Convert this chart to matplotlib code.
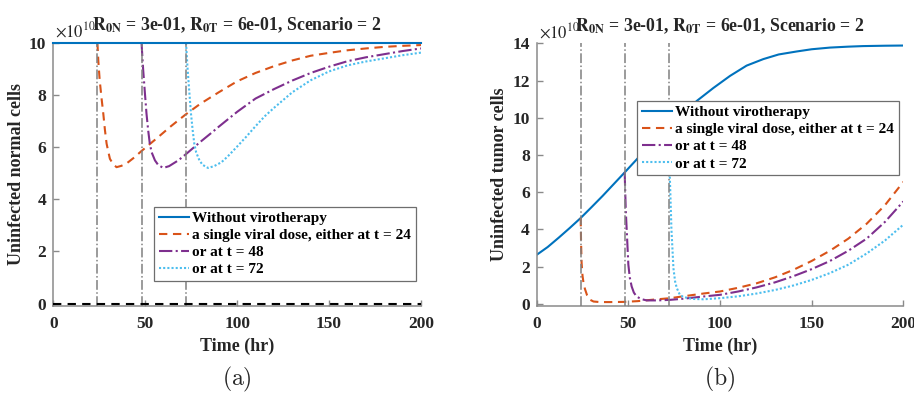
import matplotlib
matplotlib.use("Agg")
import matplotlib.pyplot as plt

plt.rcParams['font.family'] = ['Liberation Serif', 'DejaVu Serif']
plt.rcParams['mathtext.fontset'] = 'stix'

# ---------------- data ----------------
dose_times = [24, 48, 72]
legend_labels = ["Without virotherapy", "a single viral dose, either at t = 24",
                 "or at t = 48", "or at t = 72"]

# (a) uninfected normal cells (x1e10)
normal_none_t = [0, 200]
normal_none = [10, 10]
normal_d24_t = [24, 24.5, 25.2, 26.2, 27.2, 28.1, 29.0, 30.0, 30.8, 32.5, 34.4, 37, 40, 44, 48, 56, 64, 72,
                80, 90, 100, 110, 120, 130, 140, 150, 160, 170, 180, 190, 200]
normal_d24 = [10, 9.3, 8.6, 7.9, 7.28, 6.65, 6.13, 5.8, 5.55, 5.35, 5.23, 5.28, 5.38, 5.6, 5.85, 6.32, 6.8, 7.25,
              7.66, 8.1, 8.52, 8.84, 9.1, 9.32, 9.5, 9.61, 9.71, 9.78, 9.84, 9.88, 9.91]
normal_d48_t = [48, 48.5, 48.9, 49.8, 50.7, 51.6, 52.5, 53.5, 55.3, 57, 59.8, 63, 68, 72, 77, 80, 86.1, 90,
                100, 110, 120, 130, 140, 150, 160, 170, 180, 190, 200]
normal_d48 = [10, 9.4, 8.95, 8.1, 7.28, 6.65, 6.13, 5.8, 5.49, 5.32, 5.2, 5.27, 5.49, 5.72, 6.02, 6.2, 6.55, 6.78,
              7.35, 7.86, 8.22, 8.55, 8.84, 9.08, 9.29, 9.44, 9.56, 9.68, 9.78]
normal_d72_t = [72.2, 72.7, 73.1, 74.0, 74.9, 75.8, 76.7, 77.7, 79.5, 81.2, 84.2, 87.5, 91.5, 95, 100, 105,
                110, 115, 120, 130, 140, 150, 160, 170, 180, 190, 200]
normal_d72 = [10, 9.4, 8.95, 8.1, 7.28, 6.65, 6.13, 5.8, 5.49, 5.32, 5.2, 5.27, 5.42, 5.65, 6.02, 6.4,
              6.8, 7.18, 7.5, 8.1, 8.56, 8.9, 9.13, 9.28, 9.4, 9.52, 9.62]
normal_threshold = 0.0

# (b) uninfected tumor cells (x1e10)
tumor_none_t = [0, 6, 12, 18, 24, 30, 36, 42, 48, 54, 60, 66, 72, 80, 87.3, 96.4, 105.5, 114.5, 123.6,
                132, 141.8, 150, 160, 170, 178, 190, 200]
tumor_none = [2.63, 3.05, 3.55, 4.07, 4.61, 5.2, 5.8, 6.43, 7.06, 7.7, 8.35, 8.95, 9.52, 10.2, 10.9, 11.6,
              12.25, 12.8, 13.15, 13.4, 13.56, 13.68, 13.77, 13.82, 13.85, 13.87, 13.88]
tumor_d24_t = [24, 24.2, 24.5, 25, 25.5, 26.3, 27.5, 29, 31, 34.5, 40, 47.5, 55, 63.6, 72.8, 80, 91, 100,
               110, 120, 130, 140, 150, 160, 170, 180, 190, 200]
tumor_d24 = [4.61, 3.3, 2.19, 1.5, 1.15, 0.8, 0.45, 0.22, 0.12, 0.09, 0.09, 0.1, 0.14, 0.22, 0.3, 0.4, 0.55, 0.66,
             0.86, 1.1, 1.42, 1.82, 2.3, 2.85, 3.5, 4.3, 5.3, 6.55]
tumor_d48_t = [48, 48.3, 48.6, 49.1, 50, 50.8, 51.8, 53, 54.5, 57, 60, 66, 72.8, 80, 91, 100, 110, 120,
               130, 140, 150, 160, 170, 180, 190, 200]
tumor_d48 = [7.06, 6.0, 5.0, 3.98, 2.1, 1.4, 0.93, 0.6, 0.39, 0.25, 0.18, 0.18, 0.21, 0.27, 0.39, 0.48, 0.66, 0.88,
             1.15, 1.48, 1.86, 2.3, 2.85, 3.5, 4.4, 5.5]
tumor_d72_t = [72, 72.3, 72.7, 73.5, 74.6, 75.5, 76.4, 78, 80, 85, 91, 100, 110, 120, 130, 140, 150, 160,
               170, 180, 190, 200]
tumor_d72 = [9.52, 7.8, 6.6, 4.0, 1.9, 1.2, 0.85, 0.5, 0.36, 0.26, 0.24, 0.3, 0.4, 0.55, 0.74, 0.98, 1.28, 1.65,
             2.1, 2.7, 3.4, 4.25]

x_ticks = [0, 50, 100, 150, 200]
normal_yticks = [0, 2, 4, 6, 8, 10]
tumor_yticks = [0, 2, 4, 6, 8, 10, 12, 14]

# ---------------- style ----------------
C_BLUE = '#0072BD'
C_ORANGE = '#D95319'
C_PURPLE = '#7E2F8E'
C_CYAN = '#4DBEEE'
AX_COL = '#8a8a8a'
TXT_COL = '#262626'
LW = 1.5

fig = plt.figure(figsize=(9.14, 3.98), dpi=100)
axA = fig.add_axes([0.0583, 0.2312, 0.4023, 0.6615])
axB = fig.add_axes([0.5872, 0.2312, 0.4011, 0.6600])

title = r'$\mathbf{R_{0N}}$ = 3e-01, $\mathbf{R_{0T}}$ = 6e-01, Scenario = 2'


def style(ax, yticks, ylim, ylabel, sub):
    ax.set_xlim(0, 200)
    ax.set_ylim(*ylim)
    ax.set_xticks(x_ticks)
    ax.set_yticks(yticks)
    for s in ['top', 'right']:
        ax.spines[s].set_visible(False)
    for s in ['left', 'bottom']:
        ax.spines[s].set_color(AX_COL)
        ax.spines[s].set_linewidth(1.1)
    ax.tick_params(direction='in', length=4, width=1.0, color=AX_COL, labelcolor=TXT_COL,
                   labelsize=12.5)
    ax.tick_params(axis='x', pad=7)
    ax.tick_params(axis='y', pad=5)
    for lab in ax.get_xticklabels() + ax.get_yticklabels():
        lab.set_fontweight('bold')
    ax.set_xlabel('Time (hr)', fontsize=13, fontweight='bold', color=TXT_COL, labelpad=4)
    ax.set_ylabel(ylabel, fontsize=13, fontweight='bold', color=TXT_COL, labelpad=3)
    ax.set_title(title, fontsize=12.8, fontweight='bold', color=TXT_COL, pad=9)
    ax.text(0.005, 1.005, r'$\times10^{10}$', transform=ax.transAxes, fontsize=12,
            color=TXT_COL, ha='left', va='bottom')
    ax.text(0.5, -0.28, r'$\mathrm{(%s)}$' % sub, transform=ax.transAxes,
            fontsize=17, ha='center', va='center', math_fontfamily='cm', color=TXT_COL)


# ---- panel (a)
axA.plot(normal_none_t, normal_none, color=C_BLUE, lw=LW, clip_on=False, zorder=5,
         label=legend_labels[0])
axA.plot(normal_d24_t, normal_d24, color=C_ORANGE, lw=LW, ls=(0, (4, 2.7)), label=legend_labels[1])
axA.plot(normal_d48_t, normal_d48, color=C_PURPLE, lw=LW, ls='-.', label=legend_labels[2])
axA.plot(normal_d72_t, normal_d72, color=C_CYAN, lw=LW, ls=(0, (1, 1)), label=legend_labels[3])
for d in dose_times:
    axA.axvline(d, color='#808080', lw=1.1, ls='-.', zorder=3)
axA.axhline(normal_threshold, color='black', lw=1.5, ls=(0, (4, 3)), zorder=3)
style(axA, normal_yticks, (-0.09, 10), 'Uninfected normal cells', 'a')

# ---- panel (b)
axB.plot(tumor_none_t, tumor_none, color=C_BLUE, lw=LW, label=legend_labels[0])
axB.plot(tumor_d24_t, tumor_d24, color=C_ORANGE, lw=LW, ls=(0, (4, 2.7)), label=legend_labels[1])
axB.plot(tumor_d48_t, tumor_d48, color=C_PURPLE, lw=LW, ls='-.', label=legend_labels[2])
axB.plot(tumor_d72_t, tumor_d72, color=C_CYAN, lw=LW, ls=(0, (1, 1)), label=legend_labels[3])
for d in dose_times:
    axB.axvline(d, color='#808080', lw=1.1, ls='-.', zorder=3)
style(axB, tumor_yticks, (-0.12, 14), 'Uninfected tumor cells', 'b')

for ax, anchor in [(axA, (0.274, 0.377)), (axB, (0.2744, 0.780))]:
    h, l = ax.get_legend_handles_labels()
    leg = ax.legend(h[:4], l[:4], loc='upper left', bbox_to_anchor=anchor, borderaxespad=0,
                    fancybox=False, framealpha=1, edgecolor='#6e6e6e',
                    prop={'family': 'Liberation Serif', 'weight': 'bold', 'size': 11},
                    handlelength=2.0, handletextpad=0.2, labelspacing=0.22,
                    borderpad=0.3)
    leg.get_frame().set_linewidth(0.9)
    leg.set_zorder(10)

fig.savefig('out.png', dpi=100)
